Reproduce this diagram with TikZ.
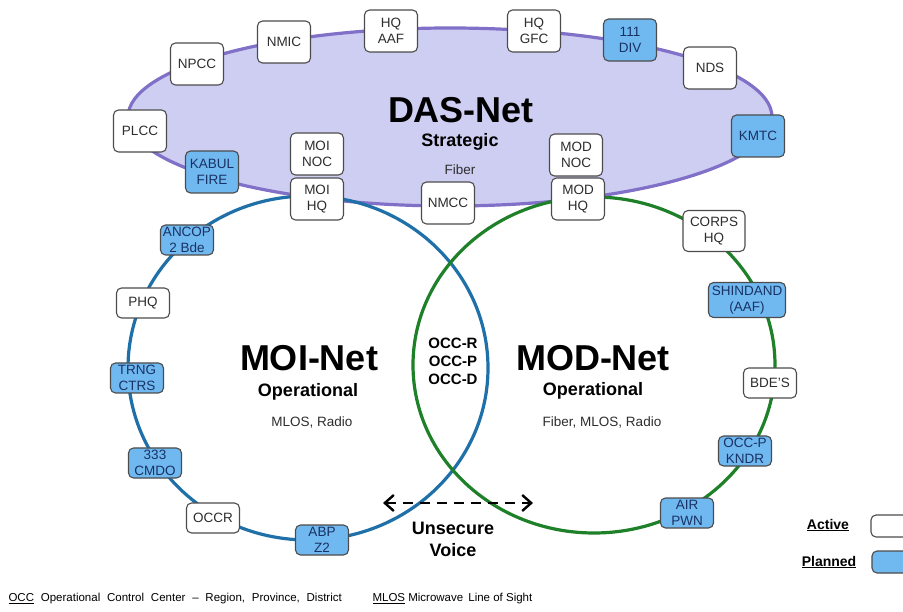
\documentclass[tikz,border=0pt]{standalone}
\usepackage{fontspec}
\setmainfont{Liberation Sans}
\usetikzlibrary{positioning,arrows.meta}
\definecolor{dasfill}{RGB}{206,206,242}
\definecolor{dasline}{RGB}{128,112,200}
\definecolor{moiline}{RGB}{31,112,168}
\definecolor{modline}{RGB}{30,128,40}
\definecolor{planfill}{RGB}{112,184,240}
\definecolor{plantext}{RGB}{25,50,100}
\definecolor{sitetext}{RGB}{45,45,45}

\begin{document}
\begin{tikzpicture}[x=1pt, y=-1pt,
    every node/.style={font=\fontsize{13.5}{16}\selectfont},
    site/.style={draw=black!70, fill=white, rounded corners=5pt, line width=1.1pt, minimum width=53pt, minimum height=42pt, align=center, inner sep=1pt, text=sitetext},
    low/.style={minimum height=30pt},
    planned/.style={site, fill=planfill, text=plantext},
    title/.style={font=\fontsize{36}{40}\selectfont\bfseries},
    sub/.style={font=\fontsize{18}{20}\selectfont\bfseries},
    media/.style={font=\fontsize{13.5}{16}\selectfont, text=sitetext},
    voice/.style={{Straight Barb[length=9pt,width=16pt]}-{Straight Barb[length=9pt,width=16pt]}, dash pattern=on 10pt off 7pt, line width=2.4pt},
]
\clip (0,0) rectangle (903,612);
\fill[white] (0,0) rectangle (903,612);

% the three nets
\draw[fill=dasfill, draw=dasline, line width=3.2pt] (450,117) ellipse [x radius=322pt, y radius=89pt];
\draw[moiline, line width=3.2pt] (308,368) ellipse [x radius=180pt, y radius=172pt];
\draw[modline, line width=3.2pt] (594,365) ellipse [x radius=181pt, y radius=168pt];

% DAS-Net sites
\node[site] (npcc) at (197,64) {NPCC};
\node[site] (nmic) at (284,42) {NMIC};
\node[site] (hqaaf) at (391,31) {HQ\\AAF};
\node[site] (hqgfc) at (534,31) {HQ\\GFC};
\node[planned] (div) at (630,40) {111\\DIV};
\node[site] (nds) at (710,68) {NDS};
\node[planned] (kmtc) at (758,136) {KMTC};
\node[site] (plcc) at (140,131) {PLCC};
\node[planned] (kabul) at (212,172) {KABUL\\FIRE};
\node[site] (moinoc) at (317,154) {MOI\\NOC};
\node[site] (moihq) at (317,199) {MOI\\HQ};
\node[site] (nmcc) at (448,203) {NMCC};
\node[site] (modnoc) at (576,155) {MOD\\NOC};
\node[site] (modhq) at (578,199) {MOD\\HQ};

% MOI-Net sites
\node[planned, low] (ancop) at (187,240) {ANCOP\\2 Bde};
\node[site, low] (phq) at (143,303) {PHQ};
\node[planned, low] (trng) at (137,378) {TRNG\\CTRS};
\node[planned, low] (cmdo) at (155,463) {333\\CMDO};
\node[site, low] (occr) at (213,518) {OCCR};
\node[planned, low] (abp) at (322,540) {ABP\\Z2};

% MOD-Net sites
\node[site, minimum width=62pt, minimum height=41pt] (corps) at (714,231) {CORPS\\HQ};
\node[planned, minimum width=77pt, minimum height=35pt] (shindand) at (747,300) {SHINDAND\\(AAF)};
\node[site, low] (bdes) at (770,383) {BDE'S};
\node[planned, low] (kndr) at (745,451) {OCC-P\\KNDR};
\node[planned, low] (pwn) at (687,513) {AIR\\PWN};

% titles
\node[title] (dasnet) at (461,110) {DAS-Net};
\node[sub] (dassub) at (460,142) {Strategic};
\node[media] (dasmedia) at (460,170) {Fiber};
\node[title] (moinet) at (309,358) {MOI-Net};
\node[sub] (moisub) at (308,392) {Operational};
\node[media] (moimedia) at (312,422) {MLOS, Radio};
\node[title] (modnet) at (593,358) {MOD-Net};
\node[sub] (modsub) at (593,391) {Operational};
\node[media] (modmedia) at (602,422) {Fiber, MLOS, Radio};
\node[align=center, font=\fontsize{15}{18}\selectfont\bfseries] (occ) at (453,361) {OCC-R\\OCC-P\\OCC-D};

% unsecure voice
\coordinate (voicel) at (383,503);
\coordinate (voicer) at (533,503);
\draw[voice] (voicel) -- (voicer);
\node[align=center, font=\fontsize{18}{22}\selectfont\bfseries] (unsec) at (453,539) {Unsecure\\Voice};

% legend
\node[font=\fontsize{14}{16}\selectfont\bfseries] (active) at (828,525) {\underline{Active}};
\node[site, minimum height=22pt, minimum width=52pt] (activekey) at (897,526) {};
\node[font=\fontsize{14}{16}\selectfont\bfseries] (plan) at (829,562) {\underline{Planned}};
\node[planned, minimum height=22pt, minimum width=52pt] (plankey) at (898,562) {};

% footer
\node[anchor=west, font=\fontsize{11.5}{13}\selectfont] (footocc) at (5,599) {\spaceskip=6.8pt \underline{OCC} Operational Control Center -- Region, Province, District};
\node[anchor=west, font=\fontsize{11.5}{13}\selectfont] (footmlos) at (369,599) {\underline{MLOS} Microwave\, Line of Sight};

\end{tikzpicture}
\end{document}
